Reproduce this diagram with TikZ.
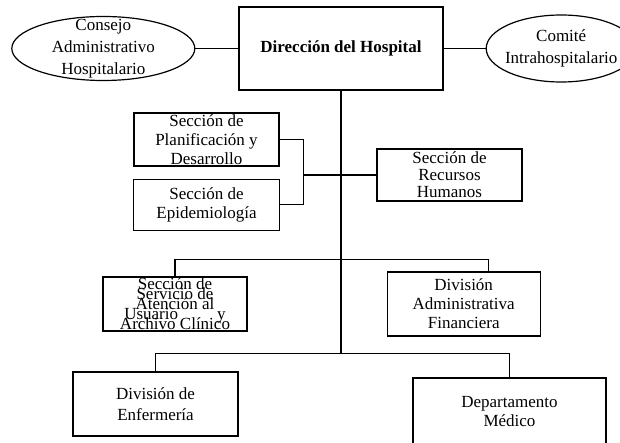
\documentclass[tikz,border=0pt]{standalone}
\usepackage{fontspec}
\setmainfont{Liberation Serif}
\usetikzlibrary{positioning,shapes}
\setlength{\lineskiplimit}{-100pt}
\tikzstyle{unit} = [rectangle, text centered, align=center, draw=black, line width=1.2pt, inner sep=-100pt, font=\fontsize{17}{19}\selectfont]
\tikzstyle{council} = [ellipse, text centered, align=center, draw=black, line width=1.2pt, inner sep=-100pt, font=\fontsize{17}{22}\selectfont]
\tikzstyle{link} = [line width=1.2pt]

\begin{document}
\begin{tikzpicture}[x=1pt,y=1pt]
		\useasboundingbox [fill=white] (-341,48.5) rectangle (279,-394.5);
		\clip (-341,48.5) rectangle (279,-394.5);
		
		\node (direccion) [unit,minimum width=204pt,minimum height=83pt,font=\fontsize{17}{19}\selectfont\bfseries] {Dirección del Hospital};
		\node (consejo) [council,minimum width=183pt,minimum height=64pt,left=43pt of direccion] {Consejo\\Administrativo\\Hospitalario};
		\node (comite) [council,minimum width=150pt,minimum height=67pt,right=42pt of direccion] {Comité\\Intrahospitalario};
		\node (planificacion) [unit,minimum width=145pt,minimum height=53pt] at (-134.5,-91) {Sección de\\Planificación y\\Desarrollo};
		\node (epidemiologia) [unit,minimum width=146pt,minimum height=51pt,below=12pt of planificacion] {Sección de\\Epidemiología};
		\node (recursos) [unit,minimum width=145pt,minimum height=52pt,font=\fontsize{17}{17}\selectfont] at (108.5,-126.5) {Sección de\\Recursos\\Humanos};
		\node (atencion-usuario) [unit,minimum width=144pt,minimum height=54pt,font=\fontsize{17}{10}\selectfont] at (-166,-255.5) {Sección de\\Servicio de\\Atención al\\Usuario\hspace{2.3em}y\\Archivo Clínico};
		\node (div-admin) [unit,minimum width=153pt,minimum height=64pt,right=139pt of atencion-usuario] {División\\Administrativa\\Financiera};
		\node (enfermeria) [unit,minimum width=165pt,minimum height=64pt,font=\fontsize{17}{21}\selectfont] at (-185.5,-355.5) {División de\\Enfermería};
		\node (dep-medico) [unit,minimum width=193pt,minimum height=68pt] at (168.5,-363.5) {Departamento\\Médico};
		
		\draw [link] (consejo) -- (direccion);
		\draw [link] (direccion) -- (comite);
		\draw [link] (planificacion.east) -- ++(24pt,0) coordinate (side-bus) |- (epidemiologia.east);
		\draw [link] (recursos.west) -- (recursos.west -| side-bus);
		\draw [link] (atencion-usuario.north) -- ++(0,17pt) coordinate (mid-bus) -| ([xshift=24.5pt]div-admin.north);
		\draw [link] (enfermeria.north) -- ++(0,18pt) coordinate (low-bus) -| (dep-medico.north);
		\draw [link] (direccion.south) -- (direccion.south |- low-bus);
		
	\end{tikzpicture}
\end{document}
